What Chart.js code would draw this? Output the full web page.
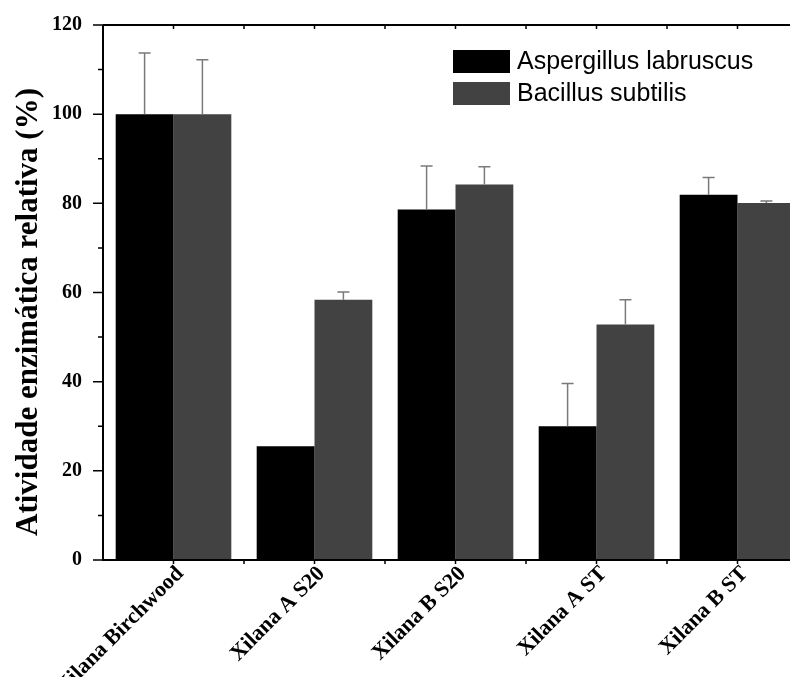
<!DOCTYPE html>
<html>
<head>
<meta charset="utf-8">
<script src="https://cdn.jsdelivr.net/npm/chart.js@4.4.1/dist/chart.umd.min.js"></script>
<style>
  body { margin: 0; overflow: hidden; background: #fff; }
  canvas { display: block; }
</style>
</head>
<body>
<canvas id="myChart" width="810" height="677"></canvas>
<script>
'use strict'

let categories = ['Xilana Birchwood', 'Xilana A S20', 'Xilana B S20', 'Xilana A ST', 'Xilana B ST'];
let aspergillus = [100, 25.5, 78.6, 30, 81.9];
let aspergillusErr = [13.7, 0, 9.8, 9.6, 3.9];
let bacillus = [100, 58.4, 84.2, 52.8, 80.1];
let bacillusErr = [12.2, 1.7, 4, 5.6, 0.4];
let yTicks = [0, 20, 40, 60, 80, 100, 120];
let yTitle = 'Atividade enzimática relativa (%)';

const serif = '"Liberation Serif", "Times New Roman", serif';
const sans = '"Liberation Sans", Arial, sans-serif';

// error bars, only the upper half like in the original
let errorBars = {
  id: 'errorBars',
  afterDatasetsDraw(chart) {
    let ctx = chart.ctx;
    let y = chart.scales.y;
    ctx.save();
    ctx.strokeStyle = '#7a7a7a';
    ctx.lineWidth = 1.5;
    chart.data.datasets.forEach((ds, di) => {
      let meta = chart.getDatasetMeta(di);
      meta.data.forEach((bar, i) => {
        let err = ds.errors[i];
        if (!err) return;
        let top = y.getPixelForValue(ds.data[i] + err);
        ctx.beginPath();
        ctx.moveTo(bar.x, bar.y);
        ctx.lineTo(bar.x, top);
        ctx.moveTo(bar.x - 6, top);
        ctx.lineTo(bar.x + 6, top);
        ctx.stroke();
      });
    });
    ctx.restore();
  }
};

// axis frame, minor ticks, y title and the legend
let frame = {
  id: 'frame',
  afterDraw(chart) {
    let ctx = chart.ctx;
    let a = chart.chartArea;
    let y = chart.scales.y;
    let x = chart.scales.x;
    ctx.save();
    ctx.strokeStyle = '#000';
    ctx.lineWidth = 2;
    ctx.beginPath();
    ctx.moveTo(a.left, a.top);
    ctx.lineTo(a.left, a.bottom);
    ctx.lineTo(a.right, a.bottom);
    ctx.moveTo(a.left, a.top);
    ctx.lineTo(a.right, a.top);
    ctx.stroke();

    ctx.lineWidth = 1.5;
    ctx.beginPath();
    for (let v = 0; v <= 120; v += 10) {
      let py = y.getPixelForValue(v);
      let len = v % 20 === 0 ? 10 : 5;
      ctx.moveTo(a.left - len, py);
      ctx.lineTo(a.left, py);
    }
    let step = x.getPixelForValue(1) - x.getPixelForValue(0);
    for (let i = 0; i < categories.length; i++) {
      let cx = x.getPixelForValue(i);
      [cx, cx + step / 2].forEach(px => {
        ctx.moveTo(px, a.top);
        ctx.lineTo(px, a.top + 4);
        ctx.moveTo(px, a.bottom);
        ctx.lineTo(px, a.bottom + 4);
      });
    }
    ctx.stroke();

    // y title
    ctx.save();
    ctx.translate(29, 312);
    ctx.rotate(-Math.PI / 2);
    ctx.font = 'bold 31px ' + serif;
    ctx.fillStyle = '#000';
    ctx.textAlign = 'center';
    ctx.textBaseline = 'middle';
    ctx.fillText(yTitle, 0, 0);
    ctx.restore();

    // legend
    let items = [
      { label: chart.data.datasets[0].label, color: chart.data.datasets[0].backgroundColor, y: 50 },
      { label: chart.data.datasets[1].label, color: chart.data.datasets[1].backgroundColor, y: 82 }
    ];
    ctx.font = '25px ' + sans;
    ctx.textBaseline = 'middle';
    items.forEach(it => {
      ctx.fillStyle = it.color;
      ctx.fillRect(453, it.y, 57, 23);
      ctx.fillStyle = '#000';
      ctx.fillText(it.label, 517, it.y + 12);
    });
    ctx.restore();
  }
};

let ctx = document.getElementById('myChart').getContext('2d');

let chart = new Chart(ctx, {
  type: 'bar',
  data: {
    labels: categories,
    datasets: [
      {
        label: 'Aspergillus labruscus',
        backgroundColor: '#000000',
        data: aspergillus,
        errors: aspergillusErr
      },
      {
        label: 'Bacillus subtilis',
        backgroundColor: '#424242',
        data: bacillus,
        errors: bacillusErr
      }
    ]
  },
  options: {
    responsive: false,
    animation: false,
    layout: { padding: { top: 24, right: 2, left: 0, bottom: 0 } },
    plugins: { legend: { display: false }, tooltip: { enabled: false } },
    datasets: { bar: { categoryPercentage: 0.82, barPercentage: 1 } },
    scales: {
      x: {
        grid: { display: false },
        border: { display: false },
        ticks: {
          color: '#000',
          font: { family: serif, size: 22, weight: 'bold' },
          minRotation: 45,
          maxRotation: 45,
          labelOffset: 7,
          padding: -7
        },
        afterFit(scale) { scale.height = 117; }
      },
      y: {
        min: 0,
        max: 120,
        afterBuildTicks(scale) { scale.ticks = yTicks.map(v => ({ value: v })); },
        grid: { display: false },
        border: { display: false },
        ticks: {
          color: '#000',
          font: { family: serif, size: 20, weight: 'bold' },
          padding: 13
        },
        afterFit(scale) { scale.width = 103; }
      }
    }
  },
  plugins: [errorBars, frame]
});
</script>
</body>
</html>
